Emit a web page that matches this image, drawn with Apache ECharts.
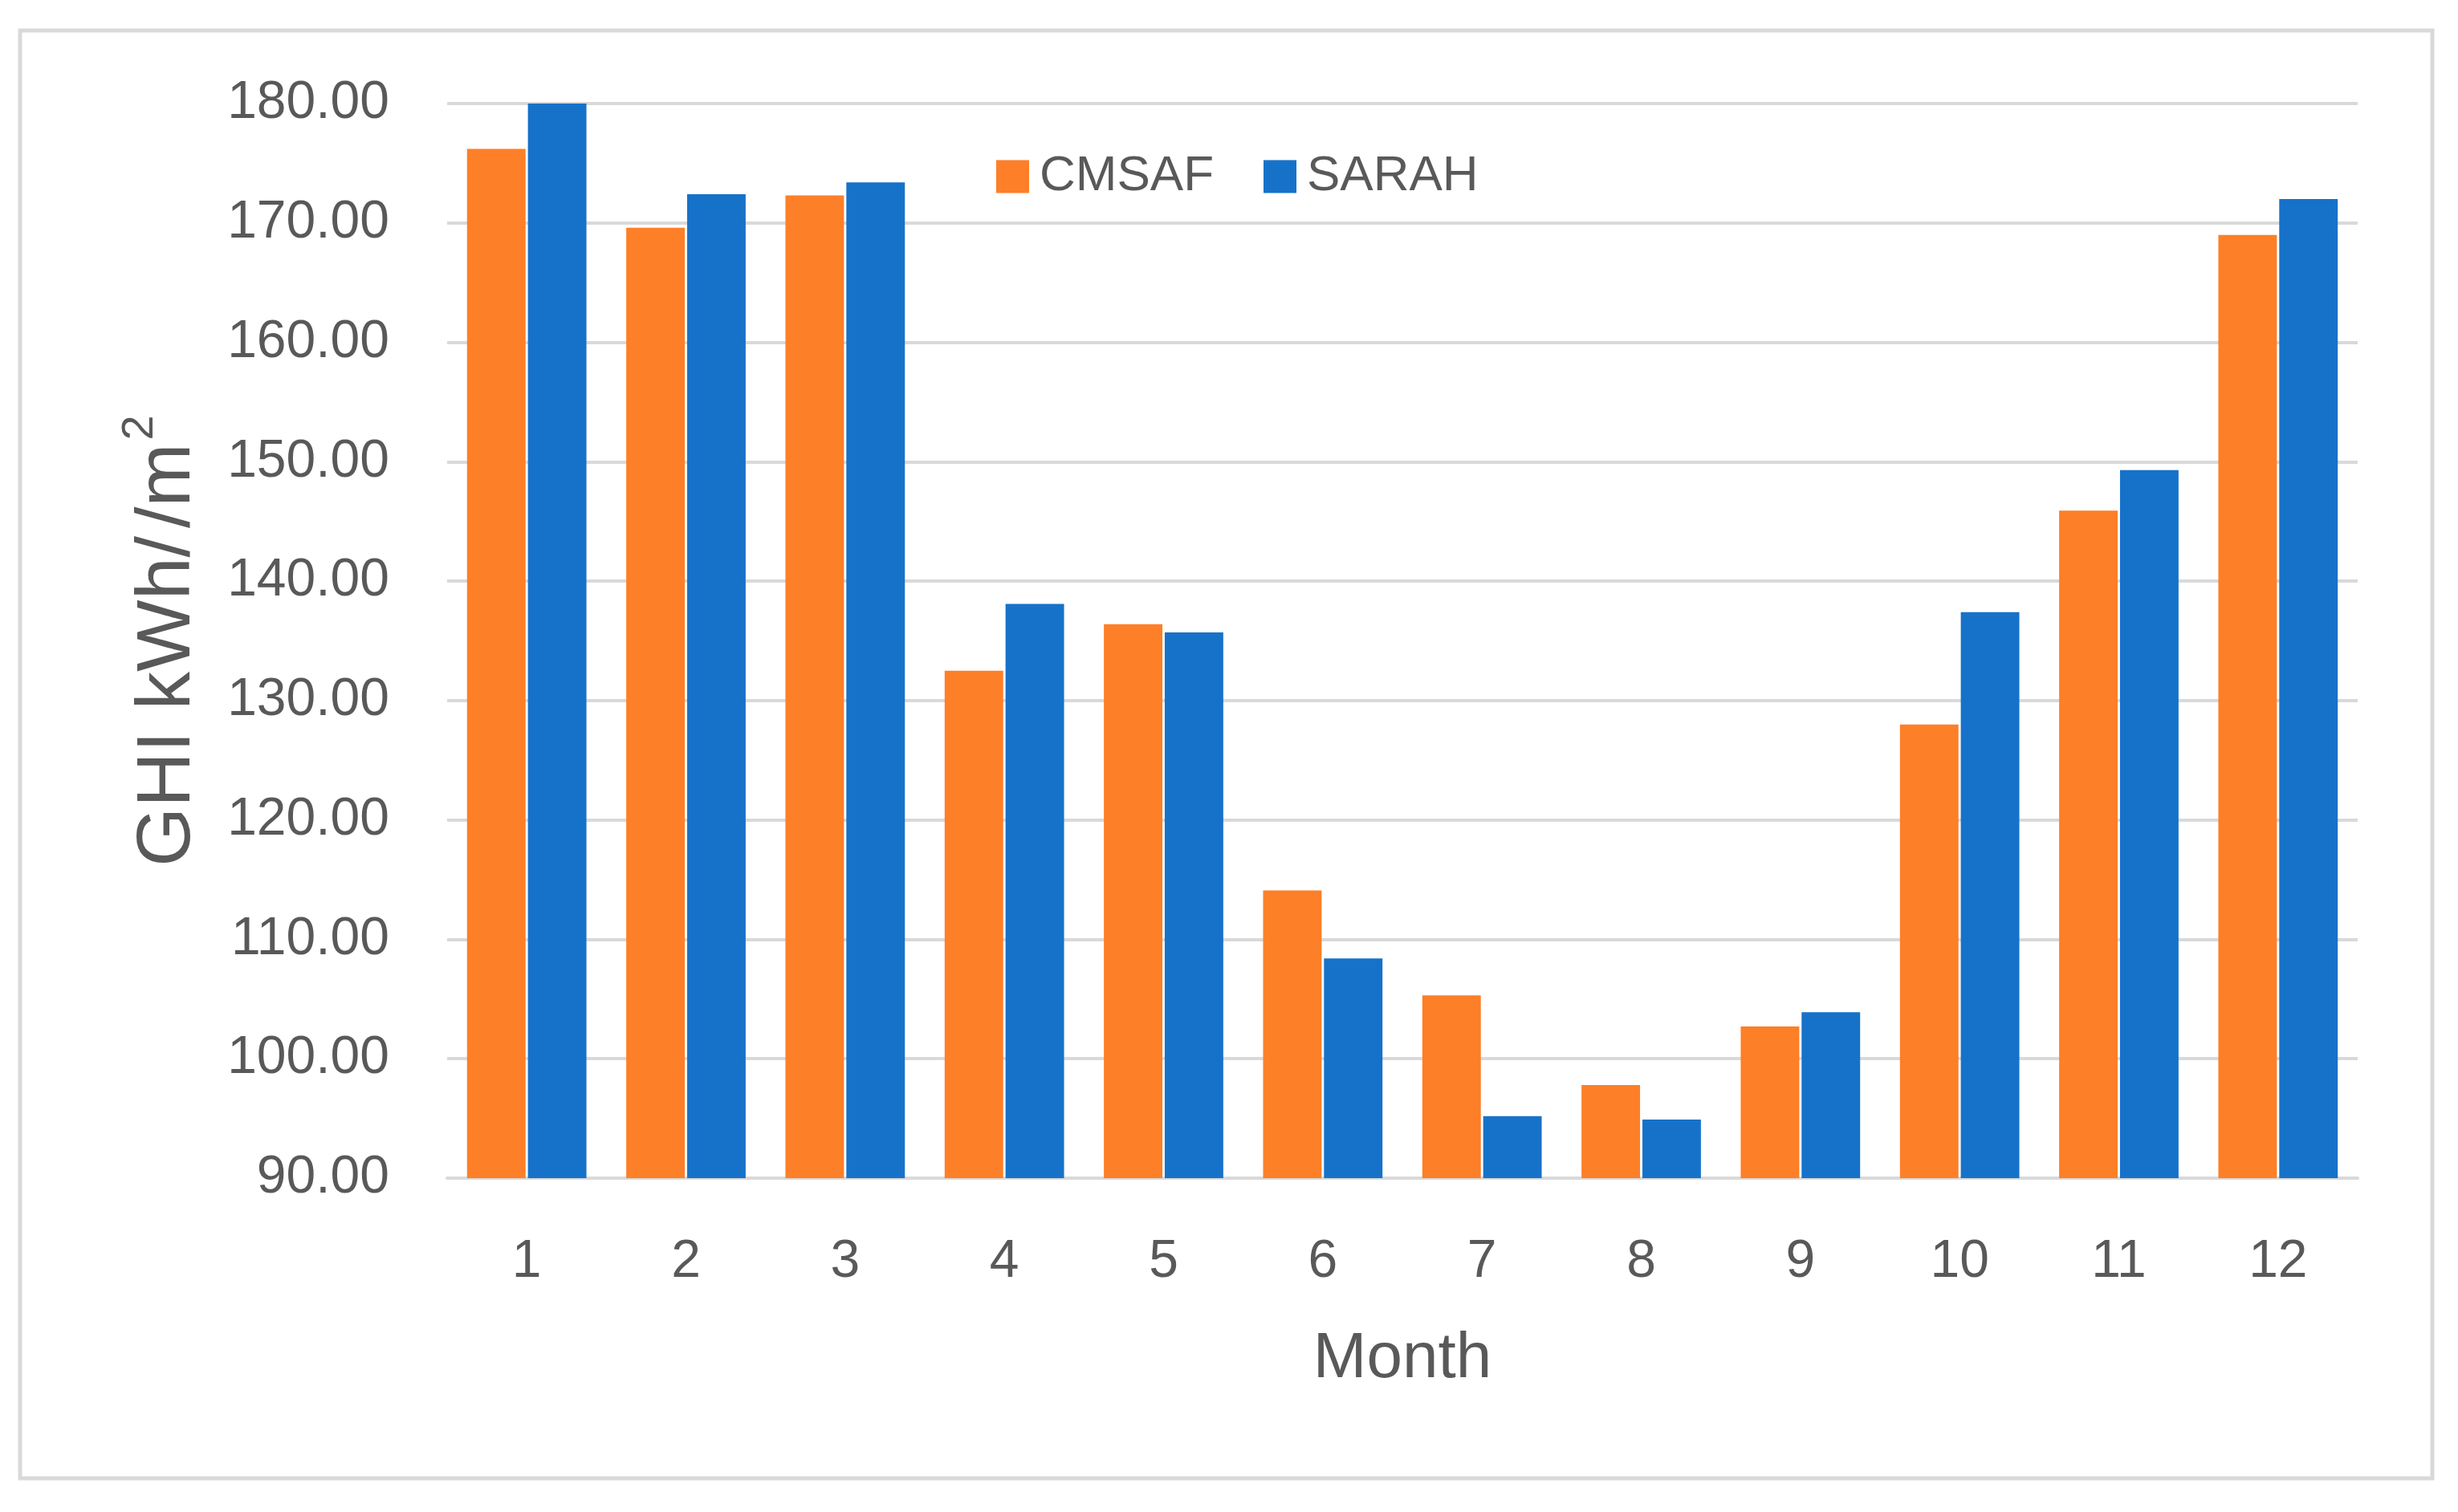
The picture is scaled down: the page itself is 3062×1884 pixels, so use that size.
<!DOCTYPE html>
<html>
<head>
<meta charset="utf-8">
<script src="https://cdn.jsdelivr.net/npm/echarts@6/dist/echarts.min.js"></script>
<style>
  html, body { margin: 0; padding: 0; background: #ffffff; }
  #chart { width: 3062px; height: 1884px; }
</style>
</head>
<body>
<div id="chart"></div>
<script>
const months = ['1', '2', '3', '4', '5', '6', '7', '8', '9', '10', '11', '12'];
const cmsaf = [176.2, 169.6, 172.3, 132.5, 136.4, 114.1, 105.3, 97.8, 102.7, 128.0, 145.9, 169.0];
const sarah = [180.0, 172.4, 173.4, 138.1, 135.7, 108.4, 95.2, 94.9, 103.9, 137.4, 149.3, 172.0];
const yMin = 90, yMax = 180, yStep = 10;

const textColor = '#595959';
const gridColor = '#D9D9D9';
const fontFam = '"Liberation Sans", Arial, sans-serif';

const chart = echarts.init(document.getElementById('chart'), null, { renderer: 'canvas' });
chart.setOption({
  backgroundColor: '#ffffff',
  animation: false,
  textStyle: { fontFamily: fontFam, color: textColor },
  graphic: [{
    type: 'rect',
    shape: { x: 25, y: 38, width: 3005, height: 1804 },
    style: { fill: 'none', stroke: gridColor, lineWidth: 5 },
    z: -1
  }],
  legend: {
    left: 1236,
    top: 184,
    itemWidth: 41,
    itemHeight: 41,
    itemGap: 62,
    icon: 'rect',
    textStyle: { fontSize: 62, color: textColor, fontFamily: fontFam, padding: [0, 0, 0, 8] },
    data: ['CMSAF', 'SARAH']
  },
  grid: { left: 557, right: 125, top: 129, bottom: 416, containLabel: false },
  xAxis: {
    type: 'category',
    data: months,
    name: 'Month',
    nameLocation: 'middle',
    nameGap: 186,
    nameTextStyle: { fontSize: 80, color: textColor, fontFamily: fontFam },
    axisTick: { show: false },
    axisLine: { lineStyle: { color: gridColor, width: 4 } },
    axisLabel: { fontSize: 66, color: textColor, margin: 72, fontFamily: fontFam }
  },
  yAxis: {
    type: 'value',
    min: yMin,
    max: yMax,
    interval: yStep,
    name: '{a|GHI kWh/}{b|/m}{s|2}',
    nameLocation: 'middle',
    nameRotate: 90,
    nameGap: 300,
    nameTextStyle: {
      color: textColor,
      fontFamily: fontFam,
      rich: {
        a: { fontSize: 95, color: textColor, fontFamily: fontFam, lineHeight: 110, verticalAlign: 'bottom' },
        b: { fontSize: 95, color: textColor, fontFamily: fontFam, lineHeight: 110, verticalAlign: 'bottom', padding: [0, 0, 0, 10] },
        s: { fontSize: 56, color: textColor, fontFamily: fontFam, lineHeight: 110, verticalAlign: 'top', padding: [0, 0, 40, 4] }
      }
    },
    axisLine: { show: false },
    axisTick: { show: false },
    splitLine: { lineStyle: { color: gridColor, width: 4 } },
    axisLabel: {
      fontSize: 66, color: textColor, margin: 72, fontFamily: fontFam,
      formatter: v => v.toFixed(2)
    }
  },
  series: [
    {
      name: 'CMSAF', type: 'bar', data: cmsaf,
      itemStyle: { color: '#FD7F28' },
      barGap: '4%', barCategoryGap: '25%'
    },
    {
      name: 'SARAH', type: 'bar', data: sarah,
      itemStyle: { color: '#1672C9' },
      barGap: '4%', barCategoryGap: '25%'
    }
  ]
});
</script>
</body>
</html>
